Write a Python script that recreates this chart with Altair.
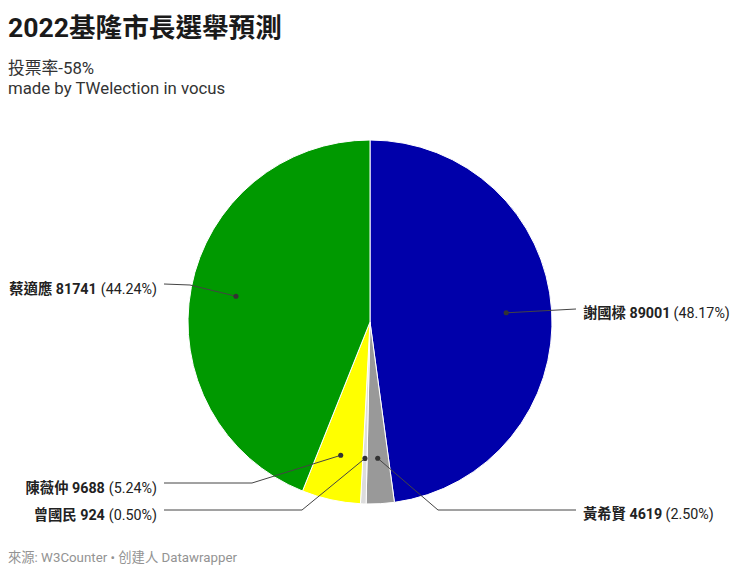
import math
import altair as alt
import pandas as pd

# ---------------- data ----------------
names = ["謝國樑", "黃希賢", "曾國民", "陳薇仲", "蔡適應"]
votes = [89001, 4619, 924, 9688, 81741]
shares = ["48.17%", "2.50%", "0.50%", "5.24%", "44.24%"]
colors = ["#0000aa", "#999999", "#dcdcdc", "#ffff00", "#009900"]

title_text = "2022基隆市長選舉預測"
subtitle_lines = ["投票率-58%", "made by TWelection in vocus"]
footer_text = "來源: W3Counter • 创建人 Datawrapper"

# ---------------- layout (page pixels) ----------------
W, H = 724, 557            # whole svg (page margin 8px)
X0, Y0 = 8, 8
CX, CY, R = 370, 322, 182  # pie centre and radius
DOT_FRAC = 0.75
FONT = "Roboto, 'Noto Sans CJK TC', sans-serif"
LABEL_SIZE = 14.3

side = ["right", "right", "left", "left", "left"]
elbow = [None, (438, 510), (302, 510), (252, 483), (190, 285)]
line_y = [309, 510, 510, 483, 284]
base_y = [318, 519, 520, 493, 294]
END_X = {"right": 576, "left": 164}
TEXT_X = {"right": 583, "left": 157}


def text_width(s, size):
    w = 0.0
    for ch in s:
        if ord(ch) > 0x2E80:
            w += 1.0
        elif ch.isdigit():
            w += 0.5615
        elif ch == " ":
            w += 0.248
        elif ch in "()":
            w += 0.345
        elif ch == ".":
            w += 0.263
        elif ch == "%":
            w += 0.732
        else:
            w += 0.55
    return w * size


xs = alt.Scale(domain=[X0, X0 + W], nice=False, zero=False)
ys = alt.Scale(domain=[Y0, Y0 + H], nice=False, zero=False, reverse=True)

# pie
pie_df = pd.DataFrame({"name": names, "votes": votes, "idx": range(len(names))})
pie = alt.Chart(pie_df).mark_arc(outerRadius=R, stroke="white", strokeWidth=1).encode(
    theta=alt.Theta("votes:Q", stack=True),
    color=alt.Color("name:N", scale=alt.Scale(domain=names, range=colors), legend=None),
    order=alt.Order("idx:Q"),
    x=alt.value(CX - X0),
    y=alt.value(CY - Y0),
)

# dots at slice mid-angles
total = sum(votes)
dot_x, dot_y = [], []
acc = 0
for v in votes:
    mid = (acc + v / 2) / total * 2 * math.pi
    acc += v
    dot_x.append(CX + DOT_FRAC * R * math.sin(mid))
    dot_y.append(CY - DOT_FRAC * R * math.cos(mid))
dots_df = pd.DataFrame({"name": names, "x": dot_x, "y": dot_y})
dots = alt.Chart(dots_df).mark_circle(size=26, color="#333333", opacity=1).encode(
    x=alt.X("x:Q", scale=xs, axis=None), y=alt.Y("y:Q", scale=ys, axis=None)
)

# leader lines
rows = []
for i, n in enumerate(names):
    pts = [(dot_x[i], dot_y[i])]
    if elbow[i] is not None:
        pts.append(elbow[i])
    pts.append((END_X[side[i]], line_y[i]))
    for k, (px, py) in enumerate(pts):
        rows.append({"name": n, "seq": k, "x": px, "y": py})
lines_df = pd.DataFrame(rows)
lines = alt.Chart(lines_df).mark_line(color="#444444", strokeWidth=1).encode(
    x=alt.X("x:Q", scale=xs, axis=None),
    y=alt.Y("y:Q", scale=ys, axis=None),
    detail="name:N",
    order="seq:Q",
)

# labels
bold_rows, pct_rows = [], []
for i, n in enumerate(names):
    bold = f"{n} {votes[i]}"
    pct = f"({shares[i]})"
    if side[i] == "right":
        bx = TEXT_X["right"]
        px = bx + text_width(bold, LABEL_SIZE) + 4
        bold_rows.append({"t": bold, "x": bx, "y": base_y[i], "a": "left"})
        pct_rows.append({"t": pct, "x": px, "y": base_y[i], "a": "left"})
    else:
        px = TEXT_X["left"]
        bx = px - text_width(pct, LABEL_SIZE) - 4
        bold_rows.append({"t": bold, "x": bx, "y": base_y[i], "a": "right"})
        pct_rows.append({"t": pct, "x": px, "y": base_y[i], "a": "right"})


def label_layer(df, weight):
    layers = []
    for a in ["left", "right"]:
        sub = df[df["a"] == a]
        layers.append(
            alt.Chart(sub).mark_text(
                align=a, baseline="alphabetic", font=FONT, fontSize=LABEL_SIZE,
                fontWeight=weight, color="#222222"
            ).encode(
                x=alt.X("x:Q", scale=xs, axis=None),
                y=alt.Y("y:Q", scale=ys, axis=None),
                text="t:N",
            )
        )
    return layers


bold_layers = label_layer(pd.DataFrame(bold_rows), "bold")
pct_layers = label_layer(pd.DataFrame(pct_rows), "normal")

# header / footer text
def free_text(text, x, y, size, weight, color):
    return alt.Chart(pd.DataFrame({"t": [text], "x": [x], "y": [y]})).mark_text(
        align="left", baseline="alphabetic", font=FONT, fontSize=size,
        fontWeight=weight, color=color
    ).encode(
        x=alt.X("x:Q", scale=xs, axis=None),
        y=alt.Y("y:Q", scale=ys, axis=None),
        text="t:N",
    )


title = free_text(title_text, 8, 37, 26.6, "bold", "#1a1a1a")
sub1 = free_text(subtitle_lines[0], 8, 74, 16.8, "normal", "#333333")
sub2 = free_text(subtitle_lines[1], 8, 94, 16.8, "normal", "#333333")
footer = free_text(footer_text, 8, 562, 13.3, "normal", "#939393")

chart = alt.layer(
    pie, lines, dots, *bold_layers, *pct_layers, title, sub1, sub2, footer
).properties(
    width=W, height=H, padding=0, autosize=alt.AutoSizeParams(type="none")
).configure_view(stroke=None)

chart.save("out.html", embed_options={"renderer": "svg", "actions": False})
